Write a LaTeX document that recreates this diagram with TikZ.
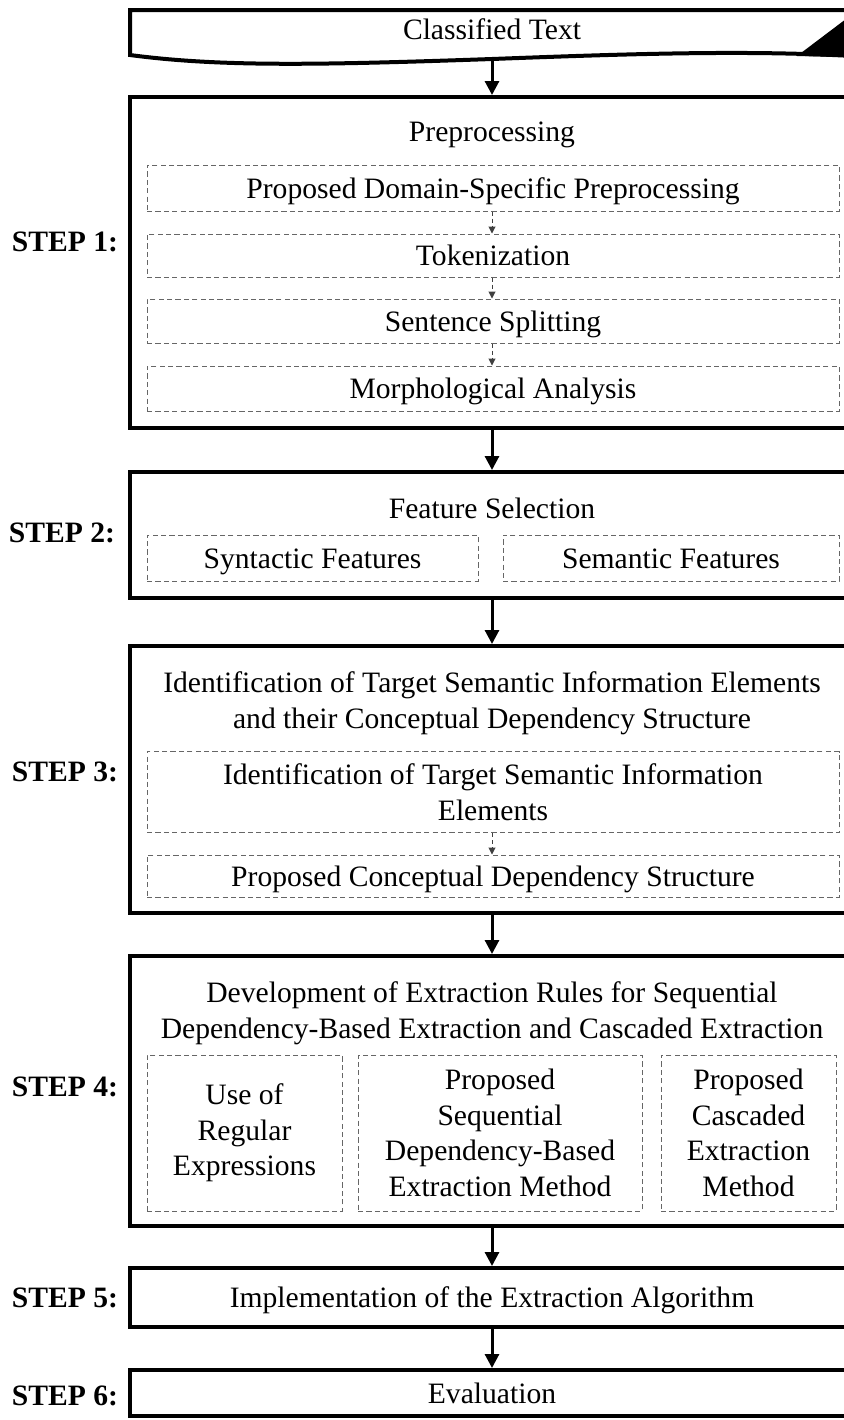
\documentclass[tikz,border=0pt]{standalone}
\usepackage{fontspec}
\setmainfont{Liberation Serif}
\usetikzlibrary{arrows.meta}
\begin{document}
\begin{tikzpicture}[x=0.5pt,y=-0.5pt,
  every node/.style={font=\fontsize{14.8}{17.8}\selectfont, align=center, inner sep=0pt},
  oneline/.style={text height=12.2pt, text depth=2pt},
  stage/.style={draw, line width=2pt, minimum width=362pt},
  sub/.style={draw=black!60, dash pattern=on 2.6pt off 1.6pt, line width=0.5pt},
  fullsub/.style={sub, minimum width=346pt},
  steplabel/.style={oneline, font=\fontsize{14.8}{17.8}\selectfont\bfseries},
  flow/.style={line width=1.5pt, -{Triangle[length=7pt,width=7pt]}},
  subflow/.style={draw=black!75, line width=0.5pt, dash pattern=on 2pt off 1.5pt,
                  -{Triangle[length=3.5pt,width=3.5pt]}}]
\useasboundingbox (0,0) rectangle (844,1420);

% input document shape with wavy lower edge
\draw[line width=2pt, fill=white] (130,10) -- (870,10) -- (870,57)
  .. controls (760,50) and (650,53) .. (492,59)
  .. controls (320,65) and (220,67) .. (130,55) -- cycle;
\fill (797,56) -- (846,19) -- (846,57) -- cycle;
\node[oneline] (doc) at (492,29) {Classified Text};
\coordinate (docbot) at (492,59);

% STEP 1
\node[stage, minimum height=165.5pt] (s1) at (492,262.5) {};
\node[oneline] (s1t) at (492,131) {Preprocessing};
\node[fullsub, oneline, minimum height=23pt] (p1) at (493,188) {Proposed Domain-Specific Preprocessing};
\node[fullsub, oneline, minimum height=21.5pt] (p2) at (493,255.5) {Tokenization};
\node[fullsub, oneline, minimum height=22pt] (p3) at (493,321) {Sentence Splitting};
\node[fullsub, oneline, minimum height=22.5pt] (p4) at (493,388.5) {Morphological Analysis};
\node[steplabel] (l1) at (65,241) {STEP 1:};

% STEP 2
\node[stage, minimum height=63pt] (s2) at (492,535) {};
\node[oneline] (s2t) at (492,508) {Feature Selection};
\node[sub, oneline, minimum width=165.5pt, minimum height=23pt] (f1) at (312.5,558) {Syntactic Features};
\node[sub, oneline, minimum width=168pt, minimum height=23pt] (f2) at (671,558) {Semantic Features};
\node[steplabel] (l2) at (62,532) {STEP 2:};

% STEP 3
\node[stage, minimum height=133.5pt] (s3) at (492,779.5) {};
\node (s3t) at (492,703) {Identification of Target Semantic Information Elements\\and their Conceptual Dependency Structure};
\node[fullsub, minimum height=40.5pt] (i1) at (493,792) {Identification of Target Semantic Information\\Elements};
\node[fullsub, oneline, minimum height=21pt] (i2) at (493,876) {Proposed Conceptual Dependency Structure};
\node[steplabel] (l3) at (65,771) {STEP 3:};

% STEP 4
\node[stage, minimum height=135pt] (s4) at (492,1091) {};
\node (s4t) at (492,1013) {Development of Extraction Rules for Sequential\\Dependency-Based Extraction and Cascaded Extraction};
\node[sub, minimum width=97.5pt, minimum height=78pt] (r1) at (244.5,1133) {Use of\\Regular\\Expressions};
\node[sub, minimum width=142pt, minimum height=78pt] (r2) at (500,1133) {Proposed\\Sequential\\Dependency-Based\\Extraction Method};
\node[sub, minimum width=87.5pt, minimum height=78pt] (r3) at (748.5,1133) {Proposed\\Cascaded\\Extraction\\Method};
\node[steplabel] (l4) at (65,1086) {STEP 4:};

% STEP 5
\node[stage, oneline, minimum height=29.5pt] (s5) at (492,1297.5) {Implementation of the Extraction Algorithm};
\node[steplabel] (l5) at (65,1297) {STEP 5:};

% STEP 6
\node[stage, oneline, minimum height=23pt] (s6) at (492,1393) {Evaluation};
\node[steplabel] (l6) at (65,1395) {STEP 6:};

% main flow
\draw[flow] (docbot) -- (s1.north);
\draw[flow] (s1) -- (s2);
\draw[flow] (s2) -- (s3);
\draw[flow] (s3) -- (s4);
\draw[flow] (s4) -- (s5);
\draw[flow] (s5) -- (s6);

% inner flow
\draw[subflow] (p1.south -| s1.north) -- (p2.north -| s1.north);
\draw[subflow] (p2.south -| s1.north) -- (p3.north -| s1.north);
\draw[subflow] (p3.south -| s1.north) -- (p4.north -| s1.north);
\draw[subflow] (i1.south -| s3.north) -- (i2.north -| s3.north);
\end{tikzpicture}
\end{document}
